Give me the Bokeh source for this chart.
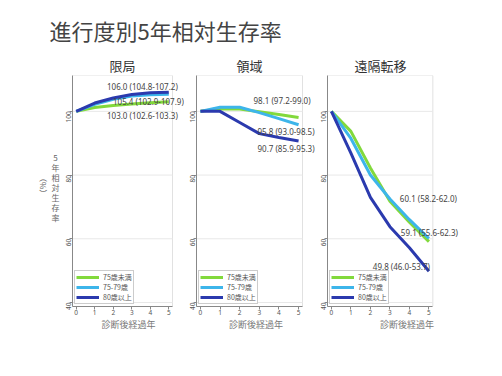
import math
from bokeh.plotting import figure
from bokeh.layouts import row, column
from bokeh.models import Range1d, FixedTicker, Label, BoxAnnotation
from bokeh.embed import file_html
from bokeh.resources import INLINE
from bokeh.core.properties import value

# ---------------- data ----------------
years = [0, 1, 2, 3, 4, 5]
groups = ["75歳未満", "75-79歳", "80歳以上"]
stages = ["限局", "領域", "遠隔転移"]
y_ticks = [40, 60, 80, 100]

loc_u75 = [100, 101.2, 101.8, 102.3, 102.7, 103.0]
loc_7579 = [100, 102.2, 103.8, 104.8, 105.2, 105.4]
loc_80 = [100, 102.6, 104.2, 105.3, 105.8, 106.0]
loc_ci_low = [102.6, 102.9, 104.8]
loc_ci_high = [103.3, 107.9, 107.2]

reg_u75 = [100, 100.7, 100.7, 99.9, 99.0, 98.1]
reg_7579 = [100, 101.3, 101.3, 99.6, 97.7, 95.8]
reg_80 = [100, 100.0, 96.5, 93.0, 91.8, 90.7]
reg_ci_low = [97.2, 93.0, 85.9]
reg_ci_high = [99.0, 98.5, 95.3]

dis_u75 = [100, 93.7, 82.2, 71.8, 65.2, 59.1]
dis_7579 = [100, 91.5, 80.0, 72.5, 66.0, 60.1]
dis_80 = [100, 86.9, 73.0, 63.8, 57.2, 49.8]
dis_ci_low = [55.6, 58.2, 46.0]
dis_ci_high = [62.3, 62.0, 53.7]

title_text = "進行度別5年相対生存率"
y_label_main = "5\n年\n相\n対\n生\n存\n率"
y_label_unit = "（%）"
x_label = "診断後経過年"

# ---------------- style ----------------
colors = ["#82D93C", "#3DB5EA", "#2B3AAE"]
JP = "Noto Sans CJK JP"
NUM = "Noto Sans"
TOP, FRAME_H, BOTTOM = 30, 231, 28
H = TOP + FRAME_H + BOTTOM
HEADER_H = 45
X_LO, X_HI = -0.2, 5.2
Y_LO, Y_HI = 38.75, 111.25

# label offsets (px) relative to the end point of each line, per panel
offsets = [
    [(9, -13.6), (15, -7), (9, 6.2)],
    [(12, 17), (16, -6.3), (16, -7.5)],
    [(29, 9.6), (28, 40.4), (1, 5)],
]


def make_panel(title, title_w, series, lo, hi, offs, bl, box_w, frame_w):
    x_end = X_LO + (X_HI - X_LO) * frame_w / box_w
    p = figure(width=bl + frame_w, height=H,
               x_range=Range1d(X_LO, x_end), y_range=Range1d(Y_LO, Y_HI),
               output_backend="svg", toolbar_location=None,
               min_border_left=bl, min_border_right=0,
               min_border_top=TOP, min_border_bottom=BOTTOM)
    p.title.text = title
    p.title.align = "left"
    p.title.offset = box_w / 2 - title_w / 2
    p.title.text_font = JP
    p.title.text_font_size = "13px"
    p.title.text_font_style = "normal"
    p.title.text_color = "#333333"
    p.title.standoff = 2

    p.xaxis.ticker = FixedTicker(ticks=years)
    p.xaxis.bounds = (X_LO, X_HI)
    p.yaxis.ticker = FixedTicker(ticks=y_ticks)
    p.yaxis.major_label_orientation = math.pi / 2
    p.axis.major_label_text_font = NUM
    p.axis.major_label_text_font_size = "6.5px"
    p.axis.major_label_text_color = "#555555"
    p.axis.major_tick_out = 3
    p.axis.major_tick_in = 0
    p.axis.minor_tick_out = 0
    p.axis.minor_tick_in = 0
    p.yaxis.major_label_standoff = 1
    p.xaxis.major_label_standoff = 0
    p.axis.axis_line_color = "#888888"
    p.axis.major_tick_line_color = "#888888"
    p.xaxis.axis_label = x_label
    p.xaxis.axis_label_text_font = JP
    p.xaxis.axis_label_text_font_size = "9px"
    p.xaxis.axis_label_text_font_style = "normal"
    p.xaxis.axis_label_text_color = "#777777"
    p.xaxis.axis_label_standoff = 0

    p.outline_line_color = None
    p.grid.visible = False
    # horizontal grid lines only inside the panel box
    p.segment(x0=[X_LO] * len(y_ticks), x1=[X_HI] * len(y_ticks),
              y0=y_ticks, y1=y_ticks, line_color="#e8e8e8", line_width=1)
    p.add_layout(BoxAnnotation(left=X_LO, right=X_HI, bottom=Y_LO, top=Y_HI,
                               fill_alpha=0, line_color="#9a9a9a", line_width=1,
                               level="underlay"))

    for vals, c, g in zip(series, colors, groups):
        p.line(years, vals, line_color=c, line_width=3, legend_label=g)

    for vals, l, h, (dx, dy) in zip(series, lo, hi, offs):
        end = vals[-1]
        p.add_layout(Label(x=years[-1], y=end, x_offset=dx, y_offset=dy,
                           text=f"{end:.1f} ({l:.1f}-{h:.1f})",
                           text_font=NUM, text_font_size="8px",
                           text_color="#444444", text_align="right",
                           text_baseline="middle"))

    lg = p.legend[0]
    lg.location = "bottom_left"
    lg.margin = 2
    lg.padding = 1
    lg.spacing = 0
    lg.glyph_width = 23
    lg.glyph_height = 8
    lg.label_height = 8
    lg.label_standoff = 4
    lg.label_text_font = JP
    lg.label_text_font_size = "7px"
    lg.label_text_color = "#555555"
    lg.border_line_color = "#999999"
    lg.border_line_width = 1
    lg.background_fill_alpha = 1
    return p


p1 = make_panel(stages[0], 26, [loc_u75, loc_7579, loc_80], loc_ci_low, loc_ci_high,
                offsets[0], 12, 100, 112)
p2 = make_panel(stages[1], 26, [reg_u75, reg_7579, reg_80], reg_ci_low, reg_ci_high,
                offsets[1], 12, 106, 119)
p3 = make_panel(stages[2], 52, [dis_u75, dis_7579, dis_80], dis_ci_low, dis_ci_high,
                offsets[2], 11, 106, 160)

# header with main title
header = figure(width=486, height=HEADER_H, x_range=Range1d(0, 486),
                y_range=Range1d(HEADER_H, 0),
                output_backend="svg", toolbar_location=None,
                x_axis_location=None, y_axis_location=None, min_border=0)
header.outline_line_color = None
header.grid.visible = False
header.text(x=[49], y=[29], text=[title_text], text_font=value(JP),
            text_font_size="22px", text_color="#444444", text_baseline="middle",
            text_align="left")

# y label column
ylab = figure(width=60, height=H, x_range=Range1d(0, 60), y_range=Range1d(H, 0),
              output_backend="svg", toolbar_location=None,
              x_axis_location=None, y_axis_location=None, min_border=0)
ylab.outline_line_color = None
ylab.grid.visible = False
ylab.text(x=[55], y=[185 - HEADER_H], text=[y_label_main], text_font=value(JP),
          text_font_size="8px", text_color="#666666", text_align="center",
          text_baseline="middle", text_line_height=0.92)
ylab.text(x=[43], y=[183 - HEADER_H], text=[y_label_unit], text_font=value(JP),
          text_font_size="8px", text_color="#666666", text_align="center",
          text_baseline="middle", angle=-math.pi / 2)

layout = column(header, row(ylab, p1, p2, p3))

with open("out.html", "w") as f:
    f.write(file_html(layout, INLINE))
